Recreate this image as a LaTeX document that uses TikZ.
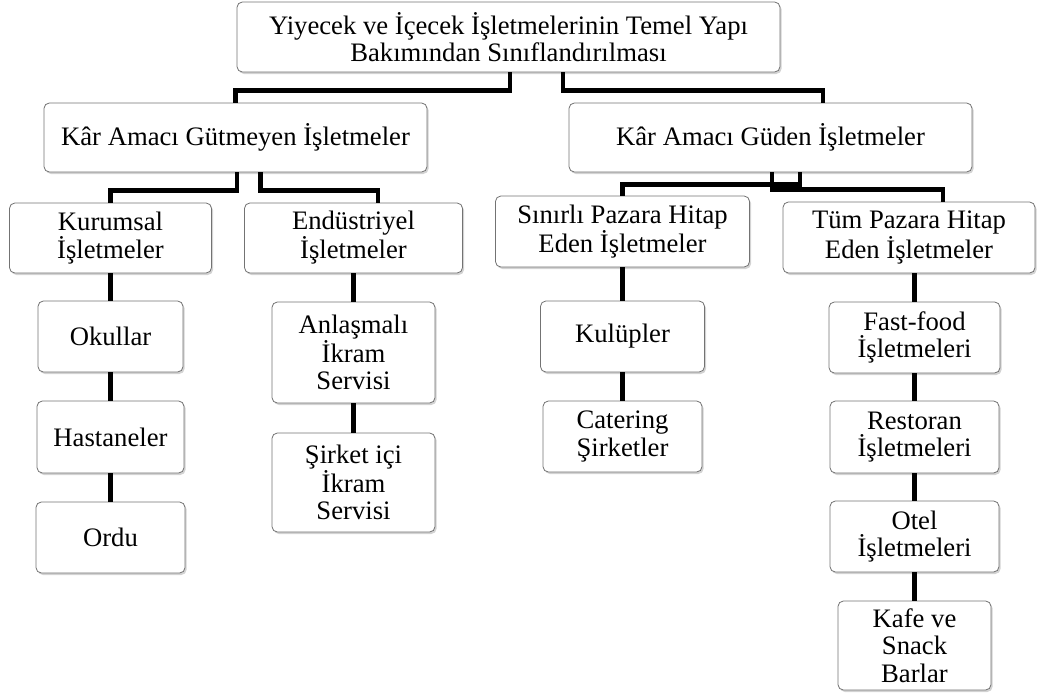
\documentclass[tikz,border=0pt]{standalone}
\usepackage{fontspec}
\setmainfont{Liberation Serif}
\usetikzlibrary{shadows}

\begin{document}
\begin{tikzpicture}[
    x=0.75pt, y=0.75pt,
    block/.style={rectangle, draw=black!55, line width=0.6pt, fill=white, rounded corners=4pt,
        align=center, inner sep=0pt, font=\fontsize{20}{20.5}\selectfont,
        drop shadow={shadow xshift=1.2pt, shadow yshift=-1.5pt, opacity=0.35}},
    wire/.style={draw, line width=3.6pt}
]
\useasboundingbox (0,0) rectangle (1038,-697);

% --- Kök ---
\node[block, minimum width=407.25pt, minimum height=52.5pt] (kok) at (508.5,-37)
    {Yiyecek ve İçecek İşletmelerinin Temel Yapı\\Bakımından Sınıflandırılması};

% --- Birinci düzey ---
\node[block, minimum width=287.25pt, minimum height=51.75pt] (gutmeyen) at (235.5,-137.5)
    {Kâr Amacı Gütmeyen İşletmeler};
\node[block, minimum width=302.25pt, minimum height=51.75pt] (guden) at (770.5,-137.5)
    {Kâr Amacı Güden İşletmeler};

% --- Kâr amacı gütmeyen ---
\node[block, minimum width=151.5pt, minimum height=52.5pt] (kurumsal) at (110.5,-238)
    {Kurumsal\\İşletmeler};
\node[block, minimum width=163.5pt, minimum height=52.5pt] (endustri) at (353.5,-238)
    {Endüstriyel\\İşletmeler};
\node[block, minimum width=108.75pt, minimum height=53.25pt] (okullar) at (110.5,-336.5) {Okullar};
\node[block, minimum width=110.25pt, minimum height=54pt] (hastane) at (110.5,-437) {Hastaneler};
\node[block, minimum width=111.75pt, minimum height=53.25pt] (ordu) at (110.5,-537.5) {Ordu};
\node[block, minimum width=122.25pt, minimum height=75.75pt] (anlasmali) at (353.5,-352.5)
    {Anlaşmalı\\İkram\\Servisi};
\node[block, minimum width=122.25pt, minimum height=74.25pt] (sirketici) at (353.5,-482.5)
    {Şirket içi\\İkram\\Servisi};

% --- Kâr amacı güden ---
\node[block, minimum width=190.5pt, minimum height=53.25pt] (sinirli) at (622.5,-231.5)
    {Sınırlı Pazara Hitap\\Eden İşletmeler};
\node[block, minimum width=189pt, minimum height=53.25pt] (tum) at (909,-237.5)
    {Tüm Pazara Hitap\\Eden İşletmeler};
\node[block, minimum width=123pt, minimum height=53.25pt] (kulupler) at (622.5,-336.5) {Kulüpler};
\node[block, minimum width=119.25pt, minimum height=53.25pt] (catering) at (622.5,-436.5)
    {Catering\\Şirketler};
\node[block, minimum width=128.25pt, minimum height=53.25pt] (fastfood) at (914.5,-337.5)
    {Fast-food\\İşletmeleri};
\node[block, minimum width=126.75pt, minimum height=54pt] (restoran) at (914.5,-437)
    {Restoran\\İşletmeleri};
\node[block, minimum width=126.75pt, minimum height=53.25pt] (otel) at (914.5,-536.5)
    {Otel\\İşletmeleri};
\node[block, minimum width=114.75pt, minimum height=66.75pt] (kafe) at (914.5,-645.5)
    {Kafe ve\\Snack\\Barlar};

% Bağlantılar
\draw[wire] ([shift={(1.5,0)}]kok.south) -- ++(0,-18) -| (gutmeyen.north);
\draw[wire] ([shift={(54.5,0)}]kok.south) -- ++(0,-18) -| ([shift={(52.5,0)}]guden.north);

\draw[wire] ([shift={(1.5,0)}]gutmeyen.south) -- ++(0,-18) -| (kurumsal.north);
\draw[wire] ([shift={(25,0)}]gutmeyen.south) -- ++(0,-18) -| ([shift={(24.5,0)}]endustri.north);

\draw[wire] ([shift={(1.5,0)}]guden.south) -- ++(0,-17) -| ([shift={(34,0)}]tum.north);
\draw[wire] ([shift={(29.5,0)}]guden.south) -- ++(0,-12) -| (sinirli.north);

\draw[wire] (kurumsal) -- (okullar) -- (hastane) -- (ordu);
\draw[wire] (endustri) -- (anlasmali) -- (sirketici);
\draw[wire] (sinirli) -- (kulupler) -- (catering);
\draw[wire] (tum.south -| fastfood.north) -- (fastfood.north);
\draw[wire] (fastfood) -- (restoran) -- (otel) -- (kafe);
\end{tikzpicture}
\end{document}
